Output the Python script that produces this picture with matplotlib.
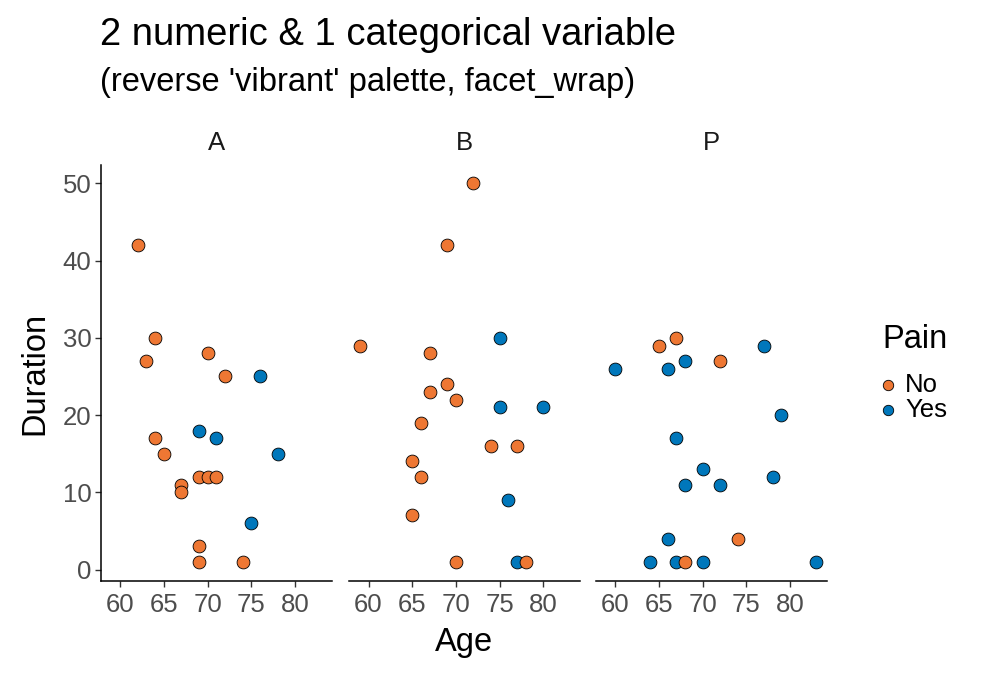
import matplotlib
matplotlib.use("Agg")
import matplotlib.pyplot as plt
from matplotlib.lines import Line2D

plt.rcParams['font.family'] = ['Liberation Sans', 'DejaVu Sans']

W, H = 986, 676

panels = ["A", "B", "P"]
pain_levels = ["No", "Yes"]
pain_colors = {"No": "#EE7733", "Yes": "#0077BB"}

# Panel A
A_age_no = [62, 64, 63, 70, 72, 64, 65, 69, 70, 71, 67, 67, 69, 69, 74]
A_dur_no = [42, 30, 27, 28, 25, 17, 15, 12, 12, 12, 11, 10, 3, 1, 1]
A_age_yes = [76, 69, 71, 78, 75]
A_dur_yes = [25, 18, 17, 15, 6]
# Panel B
B_age_no = [72, 69, 59, 67, 69, 67, 70, 66, 74, 77, 65, 66, 65, 70, 78]
B_dur_no = [50, 42, 29, 28, 24, 23, 22, 19, 16, 16, 14, 12, 7, 1, 1]
B_age_yes = [75, 75, 80, 76, 77]
B_dur_yes = [30, 21, 21, 9, 1]
# Panel P
P_age_no = [67, 65, 72, 74, 68]
P_dur_no = [30, 29, 27, 4, 1]
P_age_yes = [77, 60, 66, 68, 79, 67, 70, 68, 72, 78, 66, 64, 67, 70, 83]
P_dur_yes = [29, 26, 26, 27, 20, 17, 13, 11, 11, 12, 4, 1, 1, 1, 1]

data = {
    "A": {"No": (A_age_no, A_dur_no), "Yes": (A_age_yes, A_dur_yes)},
    "B": {"No": (B_age_no, B_dur_no), "Yes": (B_age_yes, B_dur_yes)},
    "P": {"No": (P_age_no, P_dur_no), "Yes": (P_age_yes, P_dur_yes)},
}

x_ticks = [60, 65, 70, 75, 80]
y_ticks = [0, 10, 20, 30, 40, 50]

fig = plt.figure(figsize=(W / 100, H / 100), dpi=100)
fig.patch.set_facecolor("white")

def fx(px):
    return px / W

def fy(py):
    return 1 - py / H

top_px, bot_px = 164.5, 580.7
lefts = [101, 349.3, 596]
pw = 230.8

# data ranges with ggplot-like expansion
all_x = A_age_no + A_age_yes + B_age_no + B_age_yes + P_age_no + P_age_yes
all_y = A_dur_no + A_dur_yes + B_dur_no + B_dur_yes + P_dur_no + P_dur_yes
xr = max(all_x) - min(all_x)
yr = max(all_y) - min(all_y)
xlim = (min(all_x) - 0.05 * xr, max(all_x) + 0.05 * xr)
ylim = (min(all_y) - 0.05 * yr, max(all_y) + 0.05 * yr)

tick_col = "#333333"
lab_col = "#4D4D4D"

for i, p in enumerate(panels):
    ax = fig.add_axes([fx(lefts[i]), fy(bot_px), pw / W, (bot_px - top_px) / H])
    for lvl in ["Yes", "No"]:
        xs, ys = data[p][lvl]
        ax.scatter(xs, ys, s=85, c=pain_colors[lvl], edgecolors="black",
                   linewidths=0.6, zorder=3)
    ax.set_xlim(*xlim)
    ax.set_ylim(*ylim)
    ax.set_xticks(x_ticks)
    ax.set_yticks(y_ticks)
    for s in ["top", "right"]:
        ax.spines[s].set_visible(False)
    ax.spines["bottom"].set_linewidth(1.1)
    ax.spines["left"].set_linewidth(1.1)
    ax.tick_params(axis="both", length=4, width=1.0, color=tick_col,
                   labelcolor=lab_col, labelsize=18.5, pad=3)
    ax.tick_params(axis="x", pad=5)
    if i > 0:
        ax.spines["left"].set_visible(False)
        ax.tick_params(axis="y", left=False, labelleft=False)
    ax.set_facecolor("none")
    fig.text(fx(lefts[i] + pw / 2), fy(143), p, ha="center", va="center",
             fontsize=18.5, color="#1A1A1A")

fig.text(fx(100), fy(35), "2 numeric & 1 categorical variable", ha="left",
         va="center", fontsize=27.5, color="black")
fig.text(fx(100), fy(82), "(reverse 'vibrant' palette, facet_wrap)", ha="left",
         va="center", fontsize=23.5, color="black")
fig.text(fx(35), fy(373), "Duration", rotation=90, ha="center", va="center",
         fontsize=23.5, color="black")
fig.text(fx(464), fy(643), "Age", ha="center", va="center",
         fontsize=23.5, color="black")

# legend
fig.text(fx(882), fy(340), "Pain", ha="left", va="center", fontsize=23.5,
         color="black")
for j, lvl in enumerate(pain_levels):
    yy = 385 + j * 25
    fig.add_artist(Line2D([fx(888)], [fy(yy)], transform=fig.transFigure,
                          marker="o", markersize=7.5, markerfacecolor=pain_colors[lvl],
                          markeredgecolor="black", markeredgewidth=0.6, linestyle="none"))
    fig.text(fx(905), fy(yy), lvl, ha="left", va="center", fontsize=18.5,
             color="black")

fig.savefig("out.png", dpi=100, facecolor="white")
